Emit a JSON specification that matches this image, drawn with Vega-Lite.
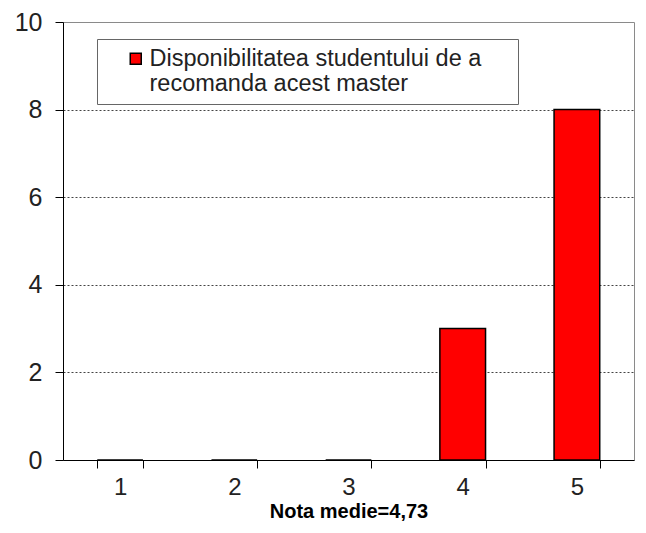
{
  "$schema": "https://vega.github.io/schema/vega-lite/v6.json",
  "width": 571,
  "height": 438,
  "autosize": {"type": "none"},
  "padding": {"left": 63, "top": 22, "right": 12, "bottom": 73},
  "background": "white",
  "config": {
    "font": "Liberation Sans",
    "view": {"stroke": "#8a8a8a", "strokeWidth": 1}
  },
  "data": {
    "values": [
      {"nota": "1", "count": 0, "series": "Disponibilitatea studentului de a recomanda acest master"},
      {"nota": "2", "count": 0, "series": "Disponibilitatea studentului de a recomanda acest master"},
      {"nota": "3", "count": 0, "series": "Disponibilitatea studentului de a recomanda acest master"},
      {"nota": "4", "count": 3, "series": "Disponibilitatea studentului de a recomanda acest master"},
      {"nota": "5", "count": 8, "series": "Disponibilitatea studentului de a recomanda acest master"}
    ]
  },
  "mark": {"type": "bar", "stroke": "black", "strokeWidth": 1.5},
  "encoding": {
    "x": {
      "field": "nota",
      "type": "ordinal",
      "scale": {"paddingInner": 0.6, "paddingOuter": 0.3},
      "axis": {
        "title": "Nota medie=4,73",
        "titleFontSize": 20,
        "titleFontWeight": "bold",
        "titleColor": "black",
        "titlePadding": 2,
        "labelAngle": 0,
        "labelFontSize": 24,
        "labelColor": "#222",
        "labelPadding": 7,
        "tickBand": "extent",
        "tickSize": 8,
        "tickColor": "black",
        "domainColor": "black",
        "grid": false
      }
    },
    "y": {
      "field": "count",
      "type": "quantitative",
      "scale": {"domain": [0, 10], "nice": false},
      "axis": {
        "title": null,
        "values": [0, 2, 4, 6, 8, 10],
        "labelFontSize": 25,
        "labelColor": "#222",
        "labelPadding": 13,
        "tickSize": 8,
        "tickColor": "black",
        "domainColor": "black",
        "grid": true,
        "gridColor": "#444",
        "gridDash": [2, 2],
        "gridOpacity": {"condition": {"test": "datum.value === 10 || datum.value === 0", "value": 0}, "value": 1}
      }
    },
    "color": {
      "field": "series",
      "type": "nominal",
      "scale": {"range": ["#ff0000"]},
      "legend": {
        "title": null,
        "orient": "none",
        "legendX": 34,
        "legendY": 17,
        "fillColor": "white",
        "strokeColor": "#666",
        "padding": 8,
        "symbolType": "square",
        "symbolSize": 121,
        "symbolStrokeColor": "black",
        "symbolStrokeWidth": 1.5,
        "symbolOffset": 19,
        "labelFontSize": 23.5,
        "labelColor": "#222",
        "labelLimit": 700,
        "labelOffset": 2,
        "labelExpr": "['Disponibilitatea studentului de a\u2003\u2009\u200b', 'recomanda acest master']"
      }
    }
  }
}
